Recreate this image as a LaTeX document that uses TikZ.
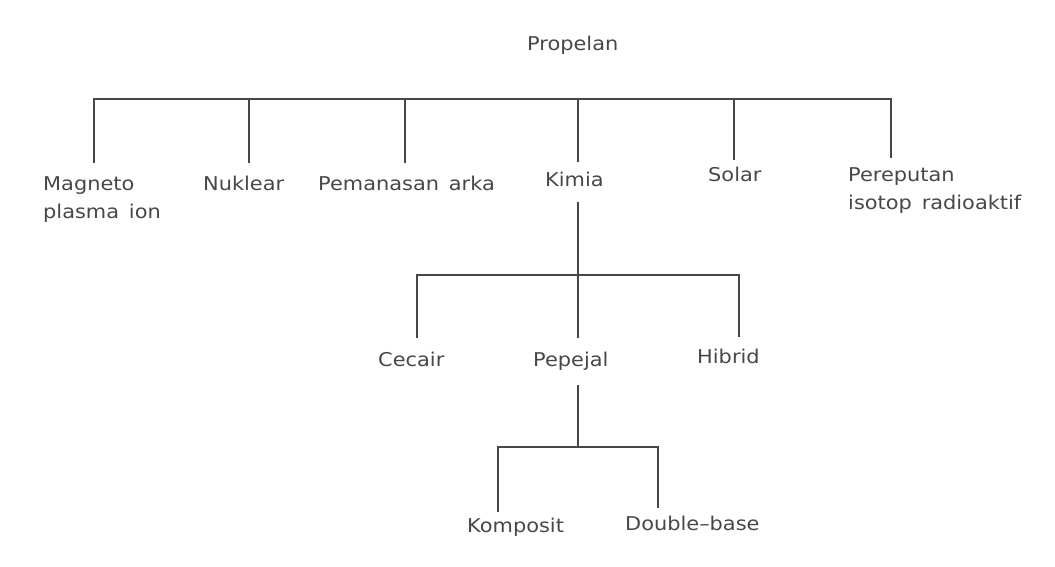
\documentclass[tikz,border=0pt]{standalone}
\usepackage{fontspec}
\setmainfont[FakeStretch=1.1]{DejaVu Sans}
\begin{document}
\begin{tikzpicture}[x=1pt,y=-1pt,
  label/.style={anchor=base west,inner sep=0pt,text=black!72,
    font=\fontsize{19}{28}\selectfont},
  stack/.style={label,align=left,anchor=north west},
  link/.style={draw=black!72,line width=1.3pt}]
\useasboundingbox (0,0) rectangle (1055,567);

% labels
\node[label] (prop) at (527,51) {Propelan};
\node[stack] (mag) at (43,176) {Magneto\\plasma\, ion};
\node[label] (nuk) at (203,190) {Nuklear};
\node[label] (pem) at (318,190) {Pemanasan\, arka};
\node[label] (kim) at (545,186) {Kimia};
\node[label] (sol) at (708,182) {Solar};
\node[stack] (per) at (848,167) {Pereputan\\isotop\, radioaktif};
\node[label] (cec) at (378,366) {Cecair};
\node[label] (pep) at (533,366) {Pepejal};
\node[label] (hib) at (697,363) {Hibrid};
\node[label] (kom) at (467,532) {Komposit};
\node[label] (dbl) at (625,530) {Double--base};

% rails and leg ends
\coordinate (railA) at (0,99);
\coordinate (railB) at (0,275);
\coordinate (railC) at (0,447);
\coordinate (legMag) at (94,163);
\coordinate (legNuk) at (249,163);
\coordinate (legPem) at (405,163);
\coordinate (legKim) at (578,162);
\coordinate (legSol) at (734,160);
\coordinate (legPer) at (891,158);
\coordinate (kimOut) at (578,202);
\coordinate (legCec) at (417,338);
\coordinate (legPep) at (578,338);
\coordinate (legHib) at (739,337);
\coordinate (pepOut) at (578,385);
\coordinate (legKom) at (498,512);
\coordinate (legDbl) at (658,508);

% first level
\draw[link] (legMag) -- (legMag |- railA) -- (legPer |- railA) -- (legPer);
\foreach \c in {legNuk,legPem,legKim,legSol}
  \draw[link] (\c |- railA) -- (\c);

% second level
\draw[link] (kimOut) -- (legPep);
\draw[link] (legCec) -- (legCec |- railB) -- (legHib |- railB) -- (legHib);

% third level
\draw[link] (pepOut) -- (pepOut |- railC);
\draw[link] (legKom) -- (legKom |- railC) -- (legDbl |- railC) -- (legDbl);
\end{tikzpicture}
\end{document}
